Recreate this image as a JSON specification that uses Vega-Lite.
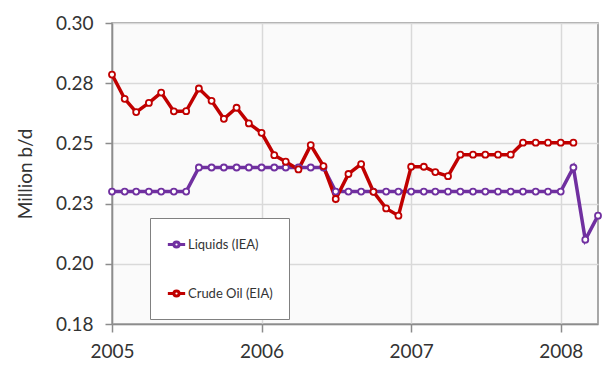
{
  "$schema": "https://vega.github.io/schema/vega-lite/v6.json",
  "autosize": {"type": "none"},
  "width": 486,
  "height": 301,
  "padding": {"left": 112, "top": 23, "right": 4, "bottom": 52},
  "background": "white",
  "config": {
    "font": "Lato",
    "view": {"fill": "#fafafa", "stroke": "#8c8c8c", "strokeWidth": 1.5}
  },
  "data": {
    "values": [
      {"date": "2005-01-01", "series": "Liquids (IEA)", "value": 0.23},
      {"date": "2005-02-01", "series": "Liquids (IEA)", "value": 0.23},
      {"date": "2005-03-01", "series": "Liquids (IEA)", "value": 0.23},
      {"date": "2005-04-01", "series": "Liquids (IEA)", "value": 0.23},
      {"date": "2005-05-01", "series": "Liquids (IEA)", "value": 0.23},
      {"date": "2005-06-01", "series": "Liquids (IEA)", "value": 0.23},
      {"date": "2005-07-01", "series": "Liquids (IEA)", "value": 0.23},
      {"date": "2005-08-01", "series": "Liquids (IEA)", "value": 0.24},
      {"date": "2005-09-01", "series": "Liquids (IEA)", "value": 0.24},
      {"date": "2005-10-01", "series": "Liquids (IEA)", "value": 0.24},
      {"date": "2005-11-01", "series": "Liquids (IEA)", "value": 0.24},
      {"date": "2005-12-01", "series": "Liquids (IEA)", "value": 0.24},
      {"date": "2006-01-01", "series": "Liquids (IEA)", "value": 0.24},
      {"date": "2006-02-01", "series": "Liquids (IEA)", "value": 0.24},
      {"date": "2006-03-01", "series": "Liquids (IEA)", "value": 0.24},
      {"date": "2006-04-01", "series": "Liquids (IEA)", "value": 0.24},
      {"date": "2006-05-01", "series": "Liquids (IEA)", "value": 0.24},
      {"date": "2006-06-01", "series": "Liquids (IEA)", "value": 0.24},
      {"date": "2006-07-01", "series": "Liquids (IEA)", "value": 0.23},
      {"date": "2006-08-01", "series": "Liquids (IEA)", "value": 0.23},
      {"date": "2006-09-01", "series": "Liquids (IEA)", "value": 0.23},
      {"date": "2006-10-01", "series": "Liquids (IEA)", "value": 0.23},
      {"date": "2006-11-01", "series": "Liquids (IEA)", "value": 0.23},
      {"date": "2006-12-01", "series": "Liquids (IEA)", "value": 0.23},
      {"date": "2007-01-01", "series": "Liquids (IEA)", "value": 0.23},
      {"date": "2007-02-01", "series": "Liquids (IEA)", "value": 0.23},
      {"date": "2007-03-01", "series": "Liquids (IEA)", "value": 0.23},
      {"date": "2007-04-01", "series": "Liquids (IEA)", "value": 0.23},
      {"date": "2007-05-01", "series": "Liquids (IEA)", "value": 0.23},
      {"date": "2007-06-01", "series": "Liquids (IEA)", "value": 0.23},
      {"date": "2007-07-01", "series": "Liquids (IEA)", "value": 0.23},
      {"date": "2007-08-01", "series": "Liquids (IEA)", "value": 0.23},
      {"date": "2007-09-01", "series": "Liquids (IEA)", "value": 0.23},
      {"date": "2007-10-01", "series": "Liquids (IEA)", "value": 0.23},
      {"date": "2007-11-01", "series": "Liquids (IEA)", "value": 0.23},
      {"date": "2007-12-01", "series": "Liquids (IEA)", "value": 0.23},
      {"date": "2008-01-01", "series": "Liquids (IEA)", "value": 0.23},
      {"date": "2008-02-01", "series": "Liquids (IEA)", "value": 0.24},
      {"date": "2008-03-01", "series": "Liquids (IEA)", "value": 0.21},
      {"date": "2008-04-01", "series": "Liquids (IEA)", "value": 0.22},
      {"date": "2005-01-01", "series": "Crude Oil (EIA)", "value": 0.2786},
      {"date": "2005-02-01", "series": "Crude Oil (EIA)", "value": 0.2685},
      {"date": "2005-03-01", "series": "Crude Oil (EIA)", "value": 0.263},
      {"date": "2005-04-01", "series": "Crude Oil (EIA)", "value": 0.2668},
      {"date": "2005-05-01", "series": "Crude Oil (EIA)", "value": 0.2711},
      {"date": "2005-06-01", "series": "Crude Oil (EIA)", "value": 0.2633},
      {"date": "2005-07-01", "series": "Crude Oil (EIA)", "value": 0.2634},
      {"date": "2005-08-01", "series": "Crude Oil (EIA)", "value": 0.2728},
      {"date": "2005-09-01", "series": "Crude Oil (EIA)", "value": 0.2677},
      {"date": "2005-10-01", "series": "Crude Oil (EIA)", "value": 0.2602},
      {"date": "2005-11-01", "series": "Crude Oil (EIA)", "value": 0.2648},
      {"date": "2005-12-01", "series": "Crude Oil (EIA)", "value": 0.2583},
      {"date": "2006-01-01", "series": "Crude Oil (EIA)", "value": 0.2544},
      {"date": "2006-02-01", "series": "Crude Oil (EIA)", "value": 0.2451},
      {"date": "2006-03-01", "series": "Crude Oil (EIA)", "value": 0.2424},
      {"date": "2006-04-01", "series": "Crude Oil (EIA)", "value": 0.2392},
      {"date": "2006-05-01", "series": "Crude Oil (EIA)", "value": 0.2493},
      {"date": "2006-06-01", "series": "Crude Oil (EIA)", "value": 0.2406},
      {"date": "2006-07-01", "series": "Crude Oil (EIA)", "value": 0.2269},
      {"date": "2006-08-01", "series": "Crude Oil (EIA)", "value": 0.2373},
      {"date": "2006-09-01", "series": "Crude Oil (EIA)", "value": 0.2414},
      {"date": "2006-10-01", "series": "Crude Oil (EIA)", "value": 0.2299},
      {"date": "2006-11-01", "series": "Crude Oil (EIA)", "value": 0.223},
      {"date": "2006-12-01", "series": "Crude Oil (EIA)", "value": 0.22},
      {"date": "2007-01-01", "series": "Crude Oil (EIA)", "value": 0.2403},
      {"date": "2007-02-01", "series": "Crude Oil (EIA)", "value": 0.2403},
      {"date": "2007-03-01", "series": "Crude Oil (EIA)", "value": 0.2381},
      {"date": "2007-04-01", "series": "Crude Oil (EIA)", "value": 0.2364},
      {"date": "2007-05-01", "series": "Crude Oil (EIA)", "value": 0.2453},
      {"date": "2007-06-01", "series": "Crude Oil (EIA)", "value": 0.2453},
      {"date": "2007-07-01", "series": "Crude Oil (EIA)", "value": 0.2453},
      {"date": "2007-08-01", "series": "Crude Oil (EIA)", "value": 0.2453},
      {"date": "2007-09-01", "series": "Crude Oil (EIA)", "value": 0.2453},
      {"date": "2007-10-01", "series": "Crude Oil (EIA)", "value": 0.2503},
      {"date": "2007-11-01", "series": "Crude Oil (EIA)", "value": 0.2503},
      {"date": "2007-12-01", "series": "Crude Oil (EIA)", "value": 0.2503},
      {"date": "2008-01-01", "series": "Crude Oil (EIA)", "value": 0.2503},
      {"date": "2008-02-01", "series": "Crude Oil (EIA)", "value": 0.2503}
    ]
  },
  "mark": {
    "type": "line",
    "strokeWidth": 3.5,
    "clip": false,
    "point": {"filled": false, "fill": "white", "size": 36, "strokeWidth": 1.8}
  },
  "encoding": {
    "x": {
      "field": "date",
      "type": "temporal",
      "scale": {"type": "utc", "domain": ["2005-01-01", "2008-04-01"]},
      "axis": {
        "title": null,
        "values": ["2005-01-01", "2006-01-01", "2007-01-01", "2008-01-01"],
        "format": "%Y",
        "formatType": "utc",
        "labelFontSize": 19,
        "labelColor": "#333333",
        "labelPadding": 10,
        "labelFlush": false,
        "tickSize": 8,
        "tickColor": "#8c8c8c",
        "tickWidth": 1.5,
        "domainColor": "#8c8c8c",
        "domainWidth": 1.5,
        "gridColor": "#d9d9d9",
        "gridWidth": 1.5
      }
    },
    "y": {
      "field": "value",
      "type": "quantitative",
      "scale": {"domain": [0.175, 0.3], "nice": false, "zero": false},
      "axis": {
        "title": "Million b/d",
        "titleFontSize": 19,
        "titleFontWeight": "normal",
        "titleColor": "#333333",
        "titlePadding": 20,
        "values": [0.175, 0.2, 0.225, 0.25, 0.275, 0.3],
        "labelExpr": "format(datum.value + 0.0001, '.2f')",
        "labelFontSize": 19,
        "labelColor": "#333333",
        "labelPadding": 12,
        "tickSize": 7,
        "tickColor": "#8c8c8c",
        "tickWidth": 1.5,
        "domainColor": "#8c8c8c",
        "domainWidth": 1.5,
        "gridColor": "#d9d9d9",
        "gridWidth": 1.5
      }
    },
    "color": {
      "field": "series",
      "type": "nominal",
      "scale": {
        "domain": ["Liquids (IEA)", "Crude Oil (EIA)"],
        "range": ["#7030a0", "#c00000"]
      },
      "legend": {
        "title": null,
        "orient": "none",
        "legendX": 38,
        "legendY": 195,
        "direction": "vertical",
        "fillColor": "white",
        "strokeColor": "#808080",
        "padding": 16,
        "rowPadding": 29,
        "labelFontSize": 13,
        "labelColor": "#333333",
        "labelOffset": 1,
        "symbolType": "M-1,0L-0.3,0M0.3,0L1,0M-0.3,0A0.3,0.3 0 1,1 0.3,0A0.3,0.3 0 1,1 -0.3,0",
        "symbolSize": 300,
        "symbolStrokeWidth": 3,
        "symbolFillColor": "white",
        "labelLimit": 200
      }
    }
  }
}
